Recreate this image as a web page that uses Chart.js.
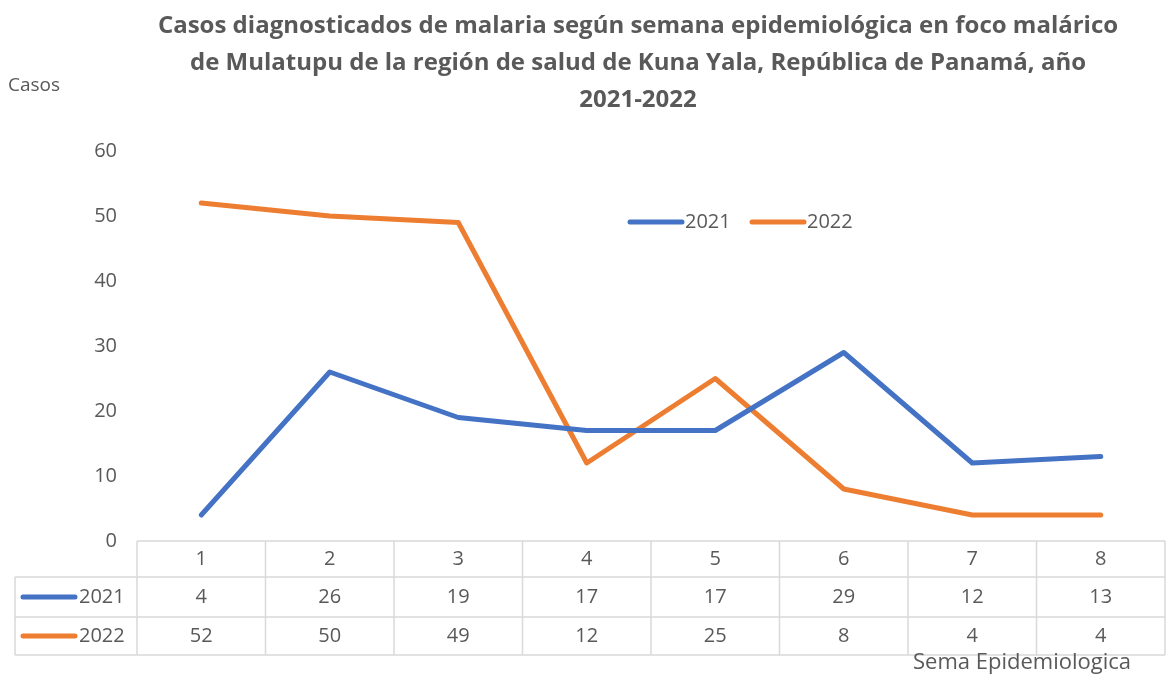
<!DOCTYPE html>
<html>
<head>
<meta charset="utf-8">
<script src="https://cdn.jsdelivr.net/npm/chart.js@4"></script>
<style>
  body { margin: 0; background: #fff; }
  canvas { display: block; }
</style>
</head>
<body>
<canvas id="malaria" width="1167" height="674"></canvas>
<script>
const semanas = ["1", "2", "3", "4", "5", "6", "7", "8"];
const casos2021 = [4, 26, 19, 17, 17, 29, 12, 13];
const casos2022 = [52, 50, 49, 12, 25, 8, 4, 4];
const yTicks = [0, 10, 20, 30, 40, 50, 60];
const titleLines = [
  "Casos diagnosticados de malaria según semana epidemiológica en foco malárico",
  "de Mulatupu de la región de salud de Kuna Yala, República de Panamá, año",
  "2021-2022"
];

const blue = "#4472C4";
const orange = "#ED7D31";
const textColor = "#595959";
const gridGray = "#D9D9D9";
const font = "'Open Sans', 'Liberation Sans', sans-serif";

// extra drawing: title, legend, data table, axis titles
const extras = {
  id: "extras",
  afterDraw(chart) {
    const ctx = chart.ctx;
    const x = chart.scales.x;
    const area = chart.chartArea;
    ctx.save();

    // title
    ctx.fillStyle = textColor;
    ctx.textAlign = "center";
    ctx.textBaseline = "middle";
    ctx.font = "bold 24px " + font;
    titleLines.forEach((line, i) => ctx.fillText(line, 638, 26 + i * 37));

    ctx.font = "19px " + font;
    ctx.textAlign = "left";
    ctx.fillText("Casos", 8, 86);

    // legend inside plot
    const legend = [["2021", blue, 628], ["2022", orange, 750]];
    ctx.lineCap = "round";
    ctx.font = "20px " + font;
    legend.forEach(([lbl, col, lx]) => {
      ctx.strokeStyle = col;
      ctx.lineWidth = 5;
      ctx.beginPath();
      ctx.moveTo(lx + 2, 222);
      ctx.lineTo(lx + 54, 222);
      ctx.stroke();
      ctx.fillStyle = textColor;
      ctx.fillText(lbl, lx + 57, 222);
    });

    // data table
    const rowTop = area.bottom;
    const rows = [rowTop, 577, 617, 655];
    const colW = (area.right - area.left) / semanas.length;
    ctx.strokeStyle = gridGray;
    ctx.lineWidth = 1.5;
    ctx.lineCap = "butt";
    ctx.beginPath();
    ctx.moveTo(area.left, rows[0]);
    ctx.lineTo(area.right, rows[0]);
    for (let r = 1; r < rows.length; r++) {
      ctx.moveTo(15, rows[r]);
      ctx.lineTo(area.right, rows[r]);
    }
    for (let c = 0; c <= semanas.length; c++) {
      const cx = area.left + c * colW;
      ctx.moveTo(cx, rows[0]);
      ctx.lineTo(cx, rows[3]);
    }
    ctx.moveTo(15, rows[1]);
    ctx.lineTo(15, rows[3]);
    ctx.stroke();

    ctx.fillStyle = textColor;
    ctx.font = "20px " + font;
    ctx.textAlign = "center";
    const series = [casos2021, casos2022];
    semanas.forEach((s, i) => {
      const cx = x.getPixelForValue(i);
      ctx.fillText(s, cx, (rows[0] + rows[1]) / 2);
      series.forEach((vals, k) => ctx.fillText(String(vals[i]), cx, (rows[k + 1] + rows[k + 2]) / 2));
    });

    // row keys
    const keys = [["2021", blue], ["2022", orange]];
    keys.forEach(([lbl, col], k) => {
      const cy = (rows[k + 1] + rows[k + 2]) / 2;
      ctx.strokeStyle = col;
      ctx.lineWidth = 5;
      ctx.lineCap = "round";
      ctx.beginPath();
      ctx.moveTo(23, cy);
      ctx.lineTo(75, cy);
      ctx.stroke();
      ctx.fillStyle = textColor;
      ctx.textAlign = "left";
      ctx.fillText(lbl, 79, cy);
    });

    ctx.font = "22px " + font;
    ctx.textAlign = "left";
    ctx.textBaseline = "alphabetic";
    ctx.fillText("Sema Epidemiologica", 913, 669);
    ctx.restore();
  }
};

new Chart(document.getElementById("malaria"), {
  type: "line",
  data: {
    labels: semanas,
    datasets: [
      { label: "2021", data: casos2021, borderColor: blue, backgroundColor: blue },
      { label: "2022", data: casos2022, borderColor: orange, backgroundColor: orange }
    ]
  },
  options: {
    responsive: false,
    animation: false,
    layout: { padding: { top: 151, bottom: 133, right: 2, left: 0 } },
    elements: {
      line: { borderWidth: 5, borderCapStyle: "round", borderJoinStyle: "round", tension: 0 },
      point: { radius: 0, hoverRadius: 0 }
    },
    plugins: {
      legend: { display: false },
      title: { display: false },
      tooltip: { enabled: false }
    },
    scales: {
      x: { display: false, offset: true },
      y: {
        min: 0,
        max: 60,
        afterFit: s => { s.width = 137; },
        afterBuildTicks: s => { s.ticks = yTicks.map(v => ({ value: v })); },
        grid: { display: false, drawTicks: false },
        border: { display: false },
        ticks: { color: textColor, font: { family: font, size: 20 }, padding: 20 }
      }
    }
  },
  plugins: [extras]
});
</script>
</body>
</html>
